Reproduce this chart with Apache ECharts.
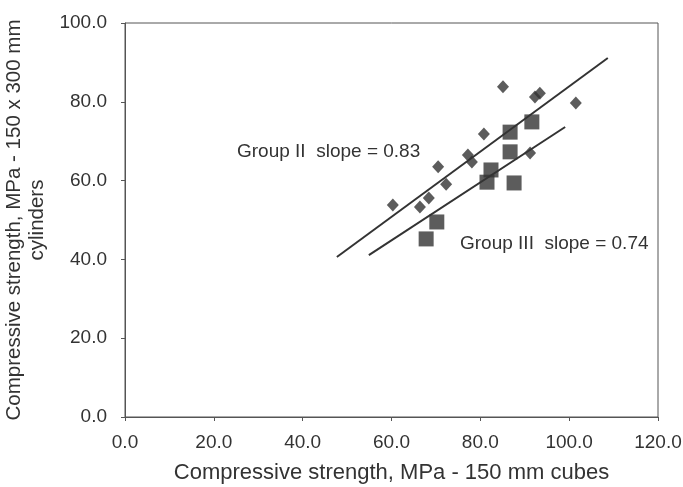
<!DOCTYPE html>
<html>
<head>
<meta charset="utf-8">
<script src="https://cdn.jsdelivr.net/npm/echarts@6/dist/echarts.min.js"></script>
<style>html,body{margin:0;padding:0;background:#fff}#c{width:683px;height:487px}</style>
</head>
<body>
<div id="c"></div>
<script>
// Group II points (diamonds)
const groupIIx = [85.1, 92.3, 93.4, 101.5, 80.8, 77.2, 78.1, 91.2, 70.5, 72.3, 60.3, 66.4, 68.4];
const groupIIy = [83.8, 81.2, 82.2, 79.7, 71.8, 66.5, 64.7, 67.0, 63.5, 59.1, 53.8, 53.3, 55.6];
// Group III points (squares)
const groupIIIx = [91.6, 86.7, 86.7, 82.4, 81.5, 87.6, 70.2, 67.8];
const groupIIIy = [74.9, 72.3, 67.3, 62.7, 59.6, 59.4, 49.5, 45.2];
// Fitted lines (end points)
const lineIIx = [47.7, 108.7];
const lineIIy = [40.6, 91.1];
const lineIIIx = [54.9, 99.1];
const lineIIIy = [41.1, 73.6];
const labelII = 'Group II  slope = 0.83';
const labelIII = 'Group III  slope = 0.74';
const xTitle = 'Compressive strength, MPa - 150 mm cubes';
const yTitle = 'Compressive strength, MPa - 150 x 300 mm\ncylinders';

const zip = (a, b) => a.map((v, i) => [v, b[i]]);
const ink = '#333';
const font = 'Liberation Sans, Arial, sans-serif';

const chart = echarts.init(document.getElementById('c'), null, {renderer: 'canvas'});
chart.setOption({
  backgroundColor: '#fff',
  animation: false,
  grid: {left: 125, right: 25, top: 23, bottom: 70, show: true, borderColor: '#555', borderWidth: 1,
         containLabel: false, outerBoundsMode: 'none'},
  xAxis: {
    type: 'value', min: 0, max: 120, interval: 20,
    name: xTitle, nameLocation: 'middle', nameGap: 45,
    nameTextStyle: {color: ink, fontSize: 22, fontFamily: font},
    axisLine: {lineStyle: {color: '#555', width: 1}},
    axisTick: {show: true, length: 4, lineStyle: {color: '#555'}},
    axisLabel: {color: ink, fontSize: 19, fontFamily: font, margin: 16, formatter: v => v.toFixed(1)},
    splitLine: {show: false}
  },
  yAxis: {
    type: 'value', min: 0, max: 100, interval: 20,
    name: yTitle, nameLocation: 'middle', nameGap: 72, nameRotate: 90,
    nameTextStyle: {color: ink, fontSize: 20.5, fontFamily: font, lineHeight: 23, align: 'center'},
    axisLine: {show: true, lineStyle: {color: '#555', width: 1}},
    axisTick: {show: true, length: 4, lineStyle: {color: '#555'}},
    axisLabel: {color: ink, fontSize: 19, fontFamily: font, margin: 18, formatter: v => v.toFixed(1)},
    splitLine: {show: false}
  },
  series: [
    {type: 'line', data: zip(lineIIx, lineIIy), symbol: 'none', lineStyle: {color: ink, width: 2}, z: 1},
    {type: 'line', data: zip(lineIIIx, lineIIIy), symbol: 'none', lineStyle: {color: ink, width: 2}, z: 1},
    {type: 'scatter', data: zip(groupIIx, groupIIy), symbol: 'diamond', symbolSize: [12, 13], itemStyle: {color: ink}, z: 3},
    {type: 'scatter', data: zip(groupIIIx, groupIIIy), symbol: 'rect', symbolSize: 15, itemStyle: {color: ink}, z: 4}
  ],
  graphic: [
    {type: 'text', left: 237, top: 142, style: {text: labelII, fill: ink, font: '19px ' + font}},
    {type: 'text', left: 460, top: 234, style: {text: labelIII, fill: ink, font: '19px ' + font}}
  ]
});
</script>
</body>
</html>
